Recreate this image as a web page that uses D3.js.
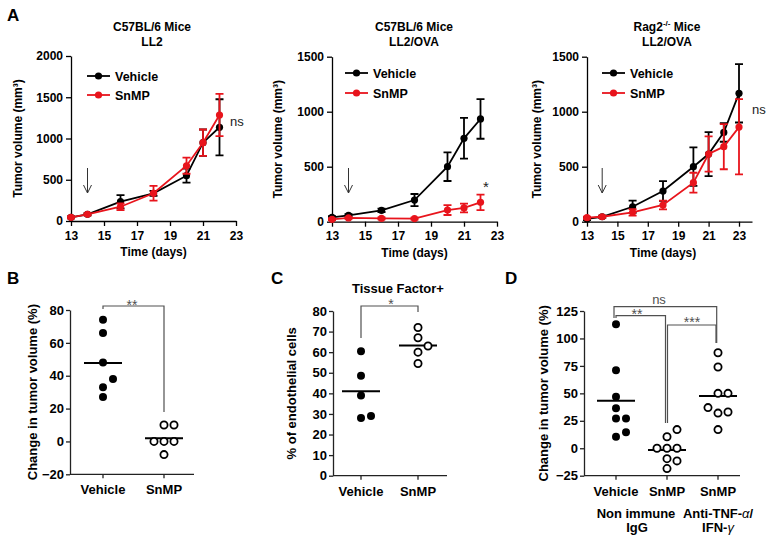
<!DOCTYPE html>
<html><head><meta charset="utf-8">
<script src="https://cdn.jsdelivr.net/npm/d3@7"></script>
<style>body{margin:0;background:#fff} svg{display:block}</style>
</head><body>
<svg id="chart" width="767" height="541"></svg>
<script>
// ---------------- data ----------------
const seriesNames = ["Vehicle", "SnMP"];
const treatmentDay = 14;
const timeTicks = [13, 15, 17, 19, 21, 23];
const volTicksLL2 = [0, 500, 1000, 1500, 2000];
const volTicksOva = [0, 500, 1000, 1500];

const daysLL2 = [13, 14, 16, 18, 20, 21, 22];
const ll2Vehicle = [45, 81, 234, 336, 549, 949, 1136];
const ll2VehicleErr = [12, 12, 80, 30, 85, 160, 340];
const ll2Snmp = [45, 81, 173, 336, 670, 949, 1285];
const ll2SnmpErr = [12, 12, 40, 90, 97, 160, 255];

const daysOva = [13, 14, 16, 18, 20, 21, 22];
const ovaVehicle = [40, 58, 103, 197, 500, 758, 934];
const ovaVehicleErr = [10, 10, 15, 55, 130, 185, 180];
const ovaSnmp = [22, 34, 30, 28, 106, 125, 176];
const ovaSnmpErr = [8, 8, 8, 8, 45, 40, 70];

const daysRag = [13, 14, 16, 18, 20, 21, 22, 23];
const ragVehicle = [25, 45, 136, 279, 500, 615, 812, 1167];
const ragVehicleErr = [10, 10, 55, 90, 175, 200, 85, 265];
const ragSnmp = [37, 45, 85, 152, 355, 615, 682, 860];
const ragSnmpErr = [10, 10, 30, 40, 90, 160, 205, 255];
const ragSnmpErrLow = [10, 10, 30, 40, 90, 160, 205, 430];

const groupsB = ["Vehicle", "SnMP"];
const bVehicle = [74, 66, 48, 38, 33, 27];
const bSnmp = [10, 10, 0, 0, 0, -8];
const ticksB = [-20, 0, 20, 40, 60, 80];

const groupsC = ["Vehicle", "SnMP"];
const cVehicle = [60.5, 48.5, 39, 28, 29];
const cSnmp = [72, 67, 63, 60, 54.5];
const ticksC = [0, 10, 20, 30, 40, 50, 60, 70, 80];

const groupsD = ["Vehicle", "SnMP", "SnMP"];
const dVehicle = [113, 71, 47, 36.5, 27, 27, 14.5, 10.5];
const dSnmp = [17, 10.5, 0, 0, 0, -9.5, -11.5, -18.5];
const dAnti = [87, 74, 50, 50, 37, 33, 32, 17];
const ticksD = [-25, 0, 25, 50, 75, 100, 125];

// ---------------- drawing ----------------
const FONT = "'Liberation Sans', Arial, Helvetica, sans-serif";
const RED = "#e8141c";
const GRAY = "#505050";
const svg = d3.select("#chart").style("font-family", FONT);
svg.append("rect").attr("width", 767).attr("height", 541).attr("fill", "#fff");

function styleAxis(g, size, color) {
  g.selectAll(".domain").attr("stroke", color).attr("stroke-width", 1.3);
  g.selectAll(".tick line").attr("stroke", color).attr("stroke-width", 1.3);
  g.selectAll(".tick text").attr("fill", "#000").attr("font-size", size)
    .attr("font-weight", "bold").attr("font-family", FONT);
}

function panelLetter(txt, x, y) {
  svg.append("text").attr("x", x).attr("y", y).attr("font-size", 17)
    .attr("font-weight", "bold").text(txt);
}

function linePanel(c) {
  const g = svg.append("g");
  const x = d3.scaleLinear().domain(c.xDomain).range(c.xRange);
  const y = d3.scaleLinear().domain(c.yDomain).range(c.yRange);
  const [yb, yt] = c.yRange;

  const ax = g.append("g").attr("transform", `translate(0,${yb})`)
    .call(d3.axisBottom(x).tickValues(timeTicks).tickFormat(d3.format("d"))
      .tickSize(5).tickPadding(5).tickSizeOuter(0));
  styleAxis(ax, 12, "#000");
  const ay = g.append("g").attr("transform", `translate(${c.xRange[0]},0)`)
    .call(d3.axisLeft(y).tickValues(c.yTicks).tickFormat(d3.format("d"))
      .tickSize(5).tickPadding(3).tickSizeOuter(0));
  styleAxis(ay, 12, "#000");

  const t = g.append("text").attr("x", c.titleX).attr("y", 31).attr("text-anchor", "middle")
    .attr("font-size", 12).attr("font-weight", "bold");
  c.title1(t);
  g.append("text").attr("x", c.titleX).attr("y", 46).attr("text-anchor", "middle")
    .attr("font-size", 12).attr("font-weight", "bold").text(c.title2);

  g.append("text").attr("x", x(18)).attr("y", yb + 35).attr("text-anchor", "middle")
    .attr("font-size", 12).attr("font-weight", "bold").text("Time (days)");
  g.append("text").attr("transform", `translate(${c.ylabX},${(yb + yt) / 2}) rotate(-90)`)
    .attr("text-anchor", "middle").attr("dy", "0.35em")
    .attr("font-size", 12).attr("font-weight", "bold").text("Tumor volume (mm\u00B3)");

  const axp = x(treatmentDay);
  g.append("path").attr("d", `M${axp},168 V193 M${axp - 4},185 L${axp},193 L${axp + 4},185`)
    .attr("fill", "none").attr("stroke", "#333").attr("stroke-width", 1);

  const series = [
    { vals: c.veh, err: c.vehErr, errLow: c.vehErrLow || c.vehErr, color: "#000" },
    { vals: c.snmp, err: c.snmpErr, errLow: c.snmpErrLow || c.snmpErr, color: RED }
  ];
  series.forEach(s => {
    const pts = c.days.map((d, i) => ({ d, v: s.vals[i], hi: s.vals[i] + s.err[i], lo: s.vals[i] - s.errLow[i] }));
    const sg = g.append("g");
    sg.selectAll(".eb").data(pts).join("path")
      .attr("d", p => `M${x(p.d)},${y(p.lo)} V${y(p.hi)} M${x(p.d) - 4},${y(p.hi)} h8 M${x(p.d) - 4},${y(p.lo)} h8`)
      .attr("stroke", s.color).attr("stroke-width", 1.8).attr("fill", "none");
    sg.append("path").datum(pts)
      .attr("d", d3.line().x(p => x(p.d)).y(p => y(p.v)))
      .attr("fill", "none").attr("stroke", s.color).attr("stroke-width", 1.8);
    sg.selectAll("circle").data(pts).join("circle")
      .attr("cx", p => x(p.d)).attr("cy", p => y(p.v)).attr("r", 3.6).attr("fill", s.color);
  });

  seriesNames.forEach((name, i) => {
    const ly = c.legendY[i];
    const col = i === 0 ? "#000" : RED;
    g.append("line").attr("x1", c.legendX).attr("x2", c.legendX + 23).attr("y1", ly).attr("y2", ly)
      .attr("stroke", col).attr("stroke-width", 1.8);
    g.append("circle").attr("cx", c.legendX + 11.5).attr("cy", ly).attr("r", 3.6).attr("fill", col);
    g.append("text").attr("x", c.legendX + 28).attr("y", ly + 4.5).attr("font-size", 12.5)
      .attr("font-weight", "bold").text(name);
  });

  g.append("text").attr("x", c.noteX).attr("y", c.noteY).attr("text-anchor", c.noteAnchor)
    .attr("font-size", c.noteSize).attr("fill", "#222").text(c.note);
}

linePanel({
  xDomain: [13, 23], xRange: [71, 236], yDomain: [0, 2000], yRange: [221, 56], yTicks: volTicksLL2,
  days: daysLL2, veh: ll2Vehicle, vehErr: ll2VehicleErr, snmp: ll2Snmp, snmpErr: ll2SnmpErr,
  titleX: 152, title1: t => t.text("C57BL/6 Mice"), title2: "LL2", ylabX: 18,
  legendX: 87, legendY: [76, 95], note: "ns", noteX: 230, noteY: 126, noteAnchor: "start", noteSize: 13
});
linePanel({
  xDomain: [13, 23], xRange: [332, 497], yDomain: [0, 1500], yRange: [221.7, 56.7], yTicks: volTicksOva,
  days: daysOva, veh: ovaVehicle, vehErr: ovaVehicleErr, snmp: ovaSnmp, snmpErr: ovaSnmpErr,
  titleX: 414, title1: t => t.text("C57BL/6 Mice"), title2: "LL2/OVA", ylabX: 278,
  legendX: 345, legendY: [73, 93], note: "*", noteX: 486, noteY: 191.5, noteAnchor: "middle", noteSize: 15
});
linePanel({
  xDomain: [13, 13 + 165 / 15.2], xRange: [587, 752], yDomain: [0, 1500], yRange: [221.7, 56.7], yTicks: volTicksOva,
  days: daysRag, veh: ragVehicle, vehErr: ragVehicleErr, snmp: ragSnmp, snmpErr: ragSnmpErr, snmpErrLow: ragSnmpErrLow,
  titleX: 667, title1: t => {
    t.append("tspan").text("Rag2");
    t.append("tspan").attr("font-size", 8).attr("dy", -5).text("-/-");
    t.append("tspan").attr("dy", 5).text(" Mice");
  }, title2: "LL2/OVA", ylabX: 537,
  legendX: 602, legendY: [73, 93], note: "ns", noteX: 752, noteY: 114, noteAnchor: "start", noteSize: 13
});

// ---------- dot plots ----------
function swarm(values, y, step, minDist) {
  const order = d3.range(values.length).sort((a, b) => values[a] - values[b]);
  const placed = [], off = new Array(values.length);
  for (const i of order) {
    const py = y(values[i]);
    for (const k of [0, 1, -1, 2, -2]) {
      const px = k * step;
      if (placed.every(p => Math.hypot(p[0] - px, p[1] - py) >= minDist)) {
        off[i] = px; placed.push([px, py]); break;
      }
    }
  }
  return off;
}

function dotPanel(c) {
  const g = svg.append("g");
  const y = d3.scaleLinear().domain(c.domain).range([c.B, c.T]);
  const x = d3.scalePoint().domain(d3.range(c.cats.length)).range(c.catRange);
  const ay = g.append("g").attr("transform", `translate(${c.L},0)`)
    .call(d3.axisLeft(y).tickValues(c.ticks).tickFormat(d3.format("d"))
      .tickSize(4).tickPadding(2).tickSizeOuter(0));
  styleAxis(ay, 13, "#222");
  g.append("line").attr("x1", c.L).attr("x2", c.R).attr("y1", c.B).attr("y2", c.B)
    .attr("stroke", "#222").attr("stroke-width", 1.3);
  c.cats.forEach((name, i) => {
    g.append("line").attr("x1", x(i)).attr("x2", x(i)).attr("y1", c.B).attr("y2", c.B + 4)
      .attr("stroke", "#222").attr("stroke-width", 1.3);
    g.append("text").attr("x", x(i)).attr("y", c.B + 20).attr("text-anchor", "middle")
      .attr("font-size", 13).attr("font-weight", "bold").text(name);
  });
  g.append("text").attr("transform", `translate(${c.ylabX},${(c.B + c.T) / 2}) rotate(-90)`)
    .attr("text-anchor", "middle").attr("dy", "0.35em")
    .attr("font-size", 13).attr("font-weight", "bold").text(c.ylabel);

  c.groups.forEach((grp, i) => {
    const offs = swarm(grp.values, y, 10, 9);
    const m = d3.mean(grp.values);
    g.append("line").attr("x1", x(i) - 19).attr("x2", x(i) + 19).attr("y1", y(m)).attr("y2", y(m))
      .attr("stroke", "#000").attr("stroke-width", 2);
    g.selectAll(null).data(grp.values).join("circle")
      .attr("cx", (v, j) => x(i) + offs[j]).attr("cy", v => y(v))
      .attr("r", grp.filled ? 4 : 3.6)
      .attr("fill", grp.filled ? "#000" : "#fff")
      .attr("stroke", "#000").attr("stroke-width", grp.filled ? 0 : 1.8);
  });
  c.brackets.forEach(b => {
    g.append("path").attr("d", b.d).attr("fill", "none").attr("stroke", GRAY).attr("stroke-width", 1.2);
    g.append("text").attr("x", b.tx).attr("y", b.ty).attr("text-anchor", "middle")
      .attr("font-size", b.size).attr("fill", GRAY).text(b.label);
  });
  return g;
}

panelLetter("A", 7, 21);
panelLetter("B", 7, 284);
panelLetter("C", 271, 284);
panelLetter("D", 505, 284);

dotPanel({
  L: 70, R: 194, T: 310, B: 474.3, domain: [-20, 80], ticks: ticksB, cats: groupsB, catRange: [103, 164],
  ylabel: "Change in tumor volume (%)", ylabX: 32,
  groups: [{ values: bVehicle, filled: true }, { values: bSnmp, filled: false }],
  brackets: [{ d: "M103,309 V306 H164 V412", label: "**", tx: 132, ty: 310, size: 14 }]
});

const gC = dotPanel({
  L: 333, R: 447, T: 311, B: 475.7, domain: [0, 80], ticks: ticksC, cats: groupsC, catRange: [361, 418],
  ylabel: "% of endothelial cells", ylabX: 291,
  groups: [{ values: cVehicle, filled: true }, { values: cSnmp, filled: false }],
  brackets: [{ d: "M361,338 V306 H418 V312", label: "*", tx: 391, ty: 309, size: 14 }]
});
gC.append("text").attr("x", 398).attr("y", 292.5).attr("text-anchor", "middle")
  .attr("font-size", 13).attr("font-weight", "bold").text("Tissue Factor+");

const gD = dotPanel({
  L: 584, R: 740, T: 311, B: 475.7, domain: [-25, 125], ticks: ticksD, cats: groupsD, catRange: [616, 718],
  ylabel: "Change in tumor volume (%)", ylabX: 543,
  groups: [{ values: dVehicle, filled: true }, { values: dSnmp, filled: false }, { values: dAnti, filled: false }],
  brackets: [
    { d: "M614,318 V306.7 H716.7 V343", label: "ns", tx: 659, ty: 303.5, size: 13 },
    { d: "M616,318 V315.7 H665.5 V423", label: "**", tx: 637, ty: 319, size: 14 },
    { d: "M667.5,423 V325 H716 V343", label: "***", tx: 692, ty: 327, size: 14 }
  ]
});
[["Non immune", 636, 518], ["IgG", 637, 532]].forEach(([s, x, y]) =>
  gD.append("text").attr("x", x).attr("y", y).attr("text-anchor", "middle")
    .attr("font-size", 13).attr("font-weight", "bold").text(s));
const tA = gD.append("text").attr("x", 718).attr("y", 518).attr("text-anchor", "middle")
  .attr("font-size", 13).attr("font-weight", "bold");
tA.append("tspan").text("Anti-TNF-");
tA.append("tspan").attr("font-style", "italic").attr("font-weight", "normal").text("\u03B1");
tA.append("tspan").text("/");
const tI = gD.append("text").attr("x", 718).attr("y", 532).attr("text-anchor", "middle")
  .attr("font-size", 13).attr("font-weight", "bold");
tI.append("tspan").text("IFN-");
tI.append("tspan").attr("font-style", "italic").attr("font-weight", "normal").text("\u03B3");
</script>
</body></html>
